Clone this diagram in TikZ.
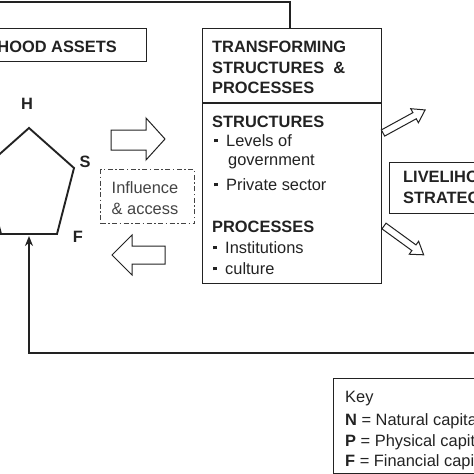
\documentclass[tikz,border=0pt]{standalone}
\usepackage{fontspec}
\setmainfont{Liberation Sans}
\usetikzlibrary{positioning,arrows.meta}
\definecolor{ink}{HTML}{222222}
\newcommand{\sqb}{\rule[0.22em]{3.5pt}{3.5pt}\hspace{8.5pt}}

\begin{document}
\begin{tikzpicture}[x=1pt, y=-1pt,
  box/.style={draw=ink, line width=1.3pt, inner sep=0pt, anchor=north west},
  txt/.style={anchor=base west, inner sep=0pt, text=ink, font=\fontsize{16.4}{21}\selectfont},
  hd/.style={txt, font=\fontsize{16.4}{21}\selectfont\bfseries},
  loop/.style={draw=ink, line width=2.6pt, line join=miter},
  hollow/.style={draw=ink, line width=1pt, fill=white, line join=miter}]
\useasboundingbox (0,0) rectangle (474,474);
\clip (0,0) rectangle (474,474);

% assets
\node[box, minimum width=151pt, minimum height=33pt] (assets) at (-5,28) {};
\node[hd, anchor=base east] (assetsT) at (117,52) {LIVELIHOOD ASSETS};
\coordinate (pH) at (29,128);
\coordinate (pS) at (74,168);
\coordinate (pF) at (57,234);
\coordinate (pP) at (1,234);
\coordinate (pN) at (-16,168);
\coordinate (pbot) at (29,236);
\draw[draw=ink, line width=1.9pt, line join=miter] (pH) -- (pS) -- (pF) -- (pP) -- (pN) -- cycle;
\node[hd, anchor=base] (lH) at (27,109) {H};
\node[hd, anchor=base] (lS) at (85,167) {S};
\node[hd, anchor=base] (lF) at (78,242) {F};

% transforming structures and processes
\node[box, minimum width=179pt, minimum height=255pt] (tsp) at (202,28) {};
\draw[draw=ink, line width=1.3pt] (tsp.west |- 0,103) -- (tsp.east |- 0,103);
\node[hd] (t1) at (212,52) {TRANSFORMING};
\node[hd] (t2) at (212,73) {STRUCTURES \ \&};
\node[hd] (t3) at (212,93) {PROCESSES};
\node[hd] (s) at (212,127) {STRUCTURES};
\node[txt] (s1) at (214,146) {\sqb Levels of};
\node[txt] (s1b) at (228,165) {government};
\node[txt] (s2) at (214,190) {\sqb Private sector};
\node[hd] (p) at (212,232) {PROCESSES};
\node[txt] (p1) at (213,253) {\sqb Institutions};
\node[txt] (p2) at (213,274) {\sqb culture};

% influence and access
\node[box, draw=ink!85, line width=1.2pt, dash pattern=on 5pt off 2.5pt on 1.5pt off 2.5pt,
  minimum width=94pt, minimum height=54pt] (infl) at (100,169) {};
\node[txt, anchor=base, text=ink!85] (i1) at (145,193) {Influence};
\node[txt, anchor=base, text=ink!85] (i2) at (145,214) {\& access};
\draw[hollow] (111,130) -- (146,130) -- (146,118) -- (165,139) -- (146,160) -- (146,150) -- (111,150) -- cycle;
\draw[hollow] (165,246) -- (132,246) -- (132,235) -- (112,255) -- (132,275) -- (132,264) -- (165,264) -- cycle;

% to strategies
\begin{scope}[shift={(383,133)}, rotate=28.7]
  \draw[hollow] (0,-3.5) -- (36,-3.5) -- (36,-8) -- (48,0) -- (36,8) -- (36,3.5) -- (0,3.5) -- cycle;
\end{scope}
\begin{scope}[shift={(384,226)}, rotate=-36]
  \draw[hollow] (0,-3.5) -- (37,-3.5) -- (37,-8) -- (49,0) -- (37,8) -- (37,3.5) -- (0,3.5) -- cycle;
\end{scope}
\node[box, minimum width=95pt, minimum height=51pt] (strat) at (389,162) {};
\node[hd] (st1) at (403,182) {LIVELIHOOD};
\node[hd] (st2) at (403,203) {STRATEGIES};

% feedback loop
\coordinate (topL) at (-5,2);
\coordinate (topC) at (290,2);
\draw[loop] (topL) -- (topC) -- (topC |- tsp.north);
\coordinate (botR) at (480,353);
\coordinate (botL) at (29,353);
\draw[loop, -{Stealth[length=10pt, width=8pt]}] (botR) -- (botL) -- (pbot);

% key
\node[box, minimum width=150pt, minimum height=95pt] (key) at (333,378) {};
\node[txt] (k0) at (345,402) {Key};
\node[txt] (k1) at (345,425) {\textbf{N} = Natural capital};
\node[txt] (k2) at (345,446) {\textbf{P} = Physical capital};
\node[txt] (k3) at (345,466) {\textbf{F} = Financial capital};
\end{tikzpicture}
\end{document}
